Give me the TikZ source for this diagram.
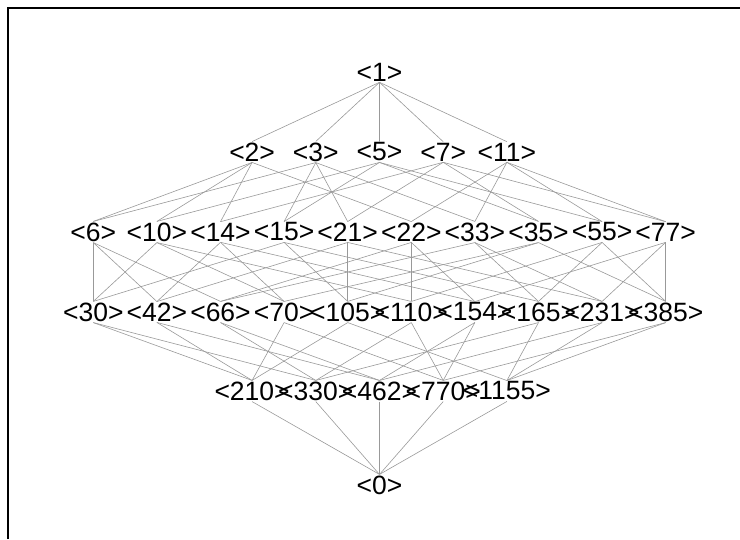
\documentclass[tikz,border=0pt]{standalone}
\usepackage{fontspec}
\setmainfont{Liberation Sans}
\begin{document}
\begin{tikzpicture}[x=1pt,y=-1pt,
  lab/.style={inner sep=1pt, font=\fontsize{26.5}{31}\selectfont},
  edge/.style={draw=black!40, line width=0.6pt},
  frameline/.style={draw=black, line width=1.5pt}]
\useasboundingbox (0,0) rectangle (740,539);
\draw[frameline] (8,539) -- (8,8) -- (740,8);
\node[lab] (n1) at (379.5,72) {<1>};
\foreach \v [count=\i from 0] in {2,3,5,7,11}
  \node[lab] (n\v) at ({379.5+63.7*(\i-2)},152) {<\v>};
\foreach \v [count=\i from 0] in {6,10,14,15,21,22,33,35,55,77}
  \node[lab] (n\v) at ({379.5+63.6*(\i-4.5)},232) {<\v>};
\foreach \v [count=\i from 0] in {30,42,66,70,105,110,154,165,231,385}
  \node[lab] (n\v) at ({379.5+63.6*(\i-4.5)},312) {<\v>};
\foreach \v [count=\i from 0] in {210,330,462,770,1155}
  \node[lab] (n\v) at ({379.5+63.7*(\i-2)},391) {<\v>};
\node[lab] (n0) at (379.5,485) {<0>};
\foreach \a/\bs in {1/{2,3,5,7,11},
  2/{6,10,14,22}, 3/{6,15,21,33}, 5/{10,15,35,55}, 7/{14,21,35,77}, 11/{22,33,55,77},
  6/{30,42,66}, 10/{30,70,110}, 14/{42,70,154}, 15/{30,105,165}, 21/{42,105,231},
  22/{66,110,154}, 33/{66,165,231}, 35/{70,105,385}, 55/{110,165,385}, 77/{154,231,385},
  30/{210,330}, 42/{210,462}, 66/{330,462}, 70/{210,770}, 105/{210,1155},
  110/{330,770}, 154/{462,770}, 165/{330,1155}, 231/{462,1155}, 385/{770,1155},
  210/{0}, 330/{0}, 462/{0}, 770/{0}, 1155/{0}}
  \foreach \b in \bs
    \draw[edge] (n\a.south) -- (n\b.north);
\end{tikzpicture}
\end{document}
